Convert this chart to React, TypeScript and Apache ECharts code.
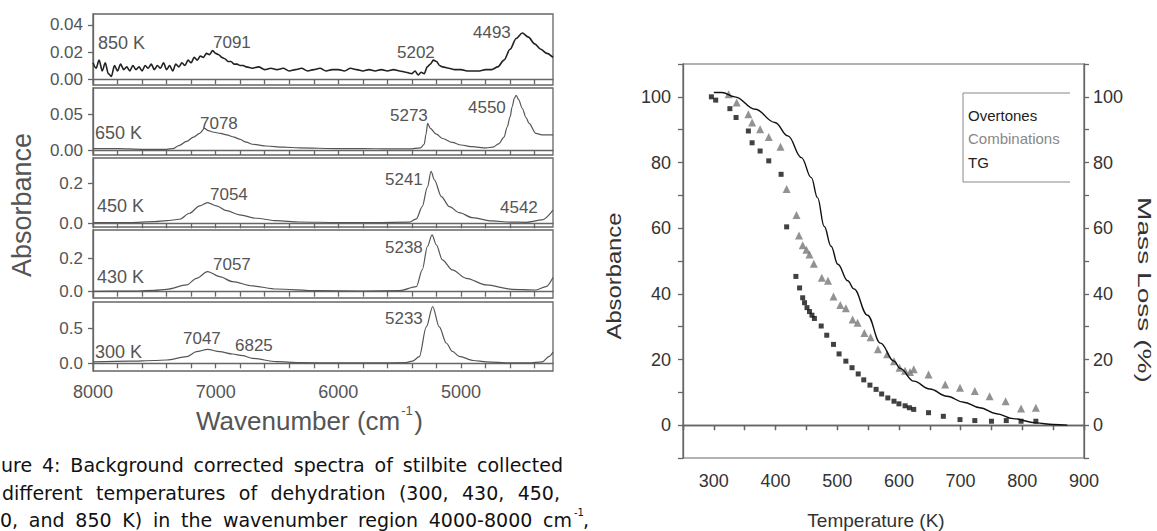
import React, { useEffect, useRef } from "react";
import * as echarts from "echarts";

// ---------------- Left figure: NIR spectra (wavenumber, absorbance) ----------------
const WN_LABELS = [8000, 7000, 6000, 5000];
const WN_TICKS = [8000, 7800, 7600, 7400, 7200, 7000, 6800, 6600, 6400, 6200, 6000, 5800, 5600, 5400, 5200, 5000, 4800, 4600, 4400];

const spectrum850K: [number, number][] = [
  [8000, 0.012], [7975, 0.008], [7950, 0.014], [7925, 0.006], [7900, 0.012], [7875, 0.004], [7850, 0.002],
  [7825, 0.010], [7800, 0.006], [7775, 0.011], [7750, 0.007], [7725, 0.009], [7700, 0.006], [7675, 0.010],
  [7650, 0.007], [7625, 0.009], [7600, 0.006], [7575, 0.010], [7550, 0.008], [7525, 0.011], [7500, 0.007],
  [7475, 0.010], [7450, 0.008], [7425, 0.012], [7400, 0.007], [7375, 0.010], [7350, 0.006], [7325, 0.011],
  [7300, 0.009], [7275, 0.012], [7250, 0.010], [7225, 0.014], [7200, 0.012], [7175, 0.016], [7150, 0.014],
  [7125, 0.017], [7100, 0.016], [7075, 0.019], [7050, 0.018], [7025, 0.021], [7000, 0.019], [6975, 0.018],
  [6950, 0.016], [6925, 0.015], [6900, 0.013], [6875, 0.013], [6850, 0.011], [6825, 0.011], [6800, 0.010],
  [6775, 0.010], [6750, 0.009], [6700, 0.008], [6650, 0.009], [6600, 0.007], [6550, 0.008], [6500, 0.007],
  [6450, 0.008], [6400, 0.006], [6350, 0.007], [6300, 0.008], [6250, 0.006], [6200, 0.007], [6150, 0.008],
  [6100, 0.006], [6050, 0.007], [6000, 0.007], [5950, 0.006], [5900, 0.008], [5850, 0.007], [5800, 0.006],
  [5750, 0.007], [5700, 0.006], [5650, 0.007], [5600, 0.006], [5550, 0.007], [5500, 0.006], [5450, 0.005],
  [5400, 0.004], [5375, 0.006], [5350, 0.003], [5325, 0.005], [5300, 0.004], [5275, 0.009], [5250, 0.011],
  [5225, 0.014], [5200, 0.013], [5175, 0.010], [5150, 0.009], [5100, 0.008], [5050, 0.007], [5000, 0.007],
  [4950, 0.006], [4900, 0.006], [4850, 0.006], [4800, 0.007], [4750, 0.007], [4700, 0.009], [4650, 0.014],
  [4600, 0.022], [4550, 0.030], [4500, 0.034], [4450, 0.031], [4400, 0.026], [4350, 0.022], [4300, 0.019],
  [4250, 0.016],
];

const spectrum650K: [number, number][] = [
  [8000, 0.002], [7800, 0.002], [7600, 0.001], [7400, 0.001], [7350, 0.002], [7300, 0.006], [7237, 0.012],
  [7180, 0.018], [7131, 0.023], [7091, 0.030], [7060, 0.027], [7025, 0.025], [6960, 0.023], [6911, 0.021],
  [6850, 0.018], [6806, 0.015], [6750, 0.011], [6700, 0.008], [6586, 0.0056], [6450, 0.004], [6317, 0.003],
  [6000, 0.002], [5800, 0.002], [5584, 0.0015], [5420, 0.0015], [5330, 0.003], [5300, 0.008], [5285, 0.022],
  [5272, 0.037], [5250, 0.030], [5201, 0.022], [5150, 0.016], [5071, 0.0105], [5000, 0.007], [4908, 0.0046],
  [4794, 0.003], [4740, 0.004], [4690, 0.009], [4650, 0.018], [4623, 0.032], [4600, 0.046], [4583, 0.060],
  [4565, 0.072], [4550, 0.076], [4530, 0.070], [4501, 0.058], [4470, 0.045], [4445, 0.037], [4389, 0.023],
  [4340, 0.021], [4250, 0.021],
];

const spectrum450K: [number, number][] = [
  [8000, 0.004], [7700, 0.004], [7500, 0.008], [7399, 0.013], [7294, 0.02], [7213, 0.05], [7131, 0.087],
  [7066, 0.103], [6993, 0.087], [6911, 0.063], [6806, 0.042], [6667, 0.025], [6504, 0.013], [6317, 0.0065],
  [6000, 0.004], [5700, 0.004], [5421, 0.006], [5364, 0.022], [5316, 0.083], [5274, 0.18], [5244, 0.258],
  [5217, 0.216], [5160, 0.133], [5095, 0.083], [5014, 0.053], [4908, 0.028], [4745, 0.0115], [4600, 0.006],
  [4468, 0.005], [4338, 0.0165], [4250, 0.065],
];

const spectrum430K: [number, number][] = [
  [8000, 0.002], [7700, 0.003], [7500, 0.008], [7399, 0.014], [7237, 0.04], [7156, 0.08], [7066, 0.12],
  [6968, 0.09], [6862, 0.06], [6700, 0.034], [6504, 0.016], [6178, 0.006], [5800, 0.004], [5500, 0.006],
  [5364, 0.03], [5316, 0.13], [5274, 0.27], [5236, 0.34], [5201, 0.28], [5152, 0.19], [5071, 0.13],
  [4957, 0.08], [4794, 0.04], [4583, 0.014], [4389, 0.01], [4307, 0.03], [4250, 0.085],
];

const spectrum300K: [number, number][] = [
  [8000, 0.02], [7700, 0.03], [7500, 0.04], [7399, 0.047], [7237, 0.094], [7156, 0.166], [7066, 0.2],
  [6968, 0.166], [6862, 0.133], [6780, 0.11], [6700, 0.071], [6504, 0.023], [6317, 0.01], [6000, 0.005],
  [5700, 0.005], [5450, 0.01], [5396, 0.03], [5340, 0.094], [5283, 0.52], [5231, 0.81], [5177, 0.52],
  [5120, 0.29], [5070, 0.17], [5014, 0.1], [4900, 0.04], [4794, 0.02], [4600, 0.005], [4450, 0.005],
  [4338, 0.02], [4281, 0.1], [4250, 0.16],
];

const TEMPERATURE_LABELS = ["850 K", "650 K", "450 K", "430 K", "300 K"];
const Y_TICKS_850K = [0, 0.02, 0.04];
const Y_TICKS_650K = [0, 0.05];
const Y_TICKS_450K = [0, 0.2];
const Y_TICKS_430K = [0, 0.2];
const Y_TICKS_300K = [0, 0.5];
const PEAK_LABELS_850K = ["7091", "5202", "4493"];
const PEAK_LABELS_650K = ["7078", "5273", "4550"];
const PEAK_LABELS_450K = ["7054", "5241", "4542"];
const PEAK_LABELS_430K = ["7057", "5238"];
const PEAK_LABELS_300K = ["7047", "6825", "5233"];

// ---------------- Right figure: temperature dependence ----------------
const T_TICKS = [300, 400, 500, 600, 700, 800, 900];
const Y_RIGHT_TICKS = [0, 20, 40, 60, 80, 100];

const overtones: [number, number][] = [
  [296, 100], [303, 99], [326, 96.4], [336, 93.7], [356, 89.6], [362, 86], [375, 83.5], [389, 80.5],
  [409, 76.4], [418, 60.4], [433, 45.3], [439, 41.8], [444, 38.8], [447, 37.3], [451, 35.8], [455, 34.6],
  [459, 33.5], [463, 32.5], [474, 30.2], [483, 27.4], [494, 24.6], [503, 21.7], [514, 19.5], [524, 17.5],
  [534, 15.6], [543, 13.8], [553, 12.2], [563, 10.9], [572, 9.5], [582, 8.3], [592, 7.3], [600, 6.5],
  [610, 5.9], [617, 5.3], [624, 4.8], [648, 3.8], [672, 2.7], [699, 1.7], [723, 1.4], [750, 1.2],
  [774, 1.4], [798, 1.2], [822, 1.2],
];

const combinations: [number, number][] = [
  [324, 100.8], [337, 98.3], [356, 94.7], [362, 92.2], [375, 90.1], [389, 87.8], [408, 84.8], [418, 71.9],
  [434, 64], [438, 57.8], [444, 54.8], [450, 53.4], [455, 52], [462, 49.2], [475, 44.9], [485, 44],
  [494, 39.2], [505, 36.6], [514, 35.6], [525, 32.2], [533, 31.2], [544, 28.1], [554, 26.8], [566, 23.1],
  [581, 21.6], [592, 19.5], [601, 17.5], [610, 16.6], [618, 16.2], [624, 17], [648, 15.4], [675, 12.4],
  [699, 11.4], [723, 10.4], [747, 8.8], [773, 7.3], [798, 5.1], [822, 5.3],
];

const tg: [number, number][] = [
  [300, 101.3], [313, 101.3], [334, 100], [367, 96.2], [399, 92.2], [420, 88.1], [442, 81.5], [458, 75.4],
  [468, 69.3], [479, 60.5], [490, 54.5], [501, 49], [517, 44], [527, 41.5], [549, 33.5], [570, 25],
  [592, 19.5], [602, 17.3], [624, 13.4], [650, 11], [678, 8.8], [705, 7], [731, 5.3], [758, 3.5],
  [785, 2], [822, 0.7], [850, 0.2], [873, 0],
];

const LEGEND_LABELS = ["Overtones", "Combinations", "TG"];
const CAPTION_LINES = [
  "ure 4: Background corrected spectra of stilbite collected",
  "different temperatures of dehydration (300, 430, 450,",
  "0, and 850 K) in the wavenumber region 4000-8000 cm",
];

// ---------------- Layout (pixels) ----------------
const FONT = "Liberation Sans, Arial, sans-serif";
const CAPTION_FONT = "DejaVu Sans, sans-serif";
const LEFT_X = 93;
const LEFT_W = 460;
const PANEL_BOXES = [
  { top: 14, height: 71, yMin: -0.0044, yMax: 0.0481, dec: 2, color: "#222", width: 1.6 },
  { top: 88, height: 67, yMin: -0.0069, yMax: 0.0861, dec: 2, color: "#555", width: 1.2 },
  { top: 158, height: 69, yMin: -0.0185, yMax: 0.325, dec: 1, color: "#555", width: 1.2 },
  { top: 230, height: 68, yMin: -0.038, yMax: 0.369, dec: 1, color: "#555", width: 1.2 },
  { top: 302, height: 69, yMin: -0.11, yMax: 0.876, dec: 1, color: "#555", width: 1.2 },
];
const TEMP_LABEL_POS = [[98, 43], [95, 133], [97, 206], [97, 277], [95, 352]];
const PEAK_LABEL_POS = [
  [[213, 42], [397, 52], [473, 32]],
  [[200, 123], [390, 115], [468, 107]],
  [[210, 194], [385, 179], [500, 207]],
  [[213, 264], [385, 247]],
  [[183, 338], [235, 345], [385, 318]],
];

function textWidth(str: string, font: string): number {
  const c = document.createElement("canvas").getContext("2d");
  if (!c) return str.length * 9;
  c.font = font;
  return c.measureText(str).width;
}

export default function App() {
  const ref = useRef<HTMLDivElement>(null);

  useEffect(() => {
    if (!ref.current) return;
    const chart = echarts.init(ref.current, undefined, { renderer: "svg" });

    const spectra = [spectrum850K, spectrum650K, spectrum450K, spectrum430K, spectrum300K];
    const yTicks = [Y_TICKS_850K, Y_TICKS_650K, Y_TICKS_450K, Y_TICKS_430K, Y_TICKS_300K];
    const peakLabels = [PEAK_LABELS_850K, PEAK_LABELS_650K, PEAK_LABELS_450K, PEAK_LABELS_430K, PEAK_LABELS_300K];

    const grid: any[] = PANEL_BOXES.map((p) => ({
      left: LEFT_X, width: LEFT_W, top: p.top, height: p.height,
      show: true, borderColor: "#666", borderWidth: 1.3, backgroundColor: "transparent",
    }));
    grid.push({ left: 683, width: 401, top: 64, height: 394, show: true, borderColor: "#666", borderWidth: 1.2 });

    const axisLineStyle = { color: "#666", width: 1.3 };

    const xAxis: any[] = PANEL_BOXES.map((p, i) => ({
      type: "value", gridIndex: i, min: 4250, max: 8000, inverse: true,
      axisLine: { show: true, lineStyle: axisLineStyle },
      axisTick: { show: true, inside: false, length: 5, lineStyle: axisLineStyle, customValues: WN_TICKS },
      axisLabel: {
        show: i === 4, customValues: WN_LABELS, fontSize: 18, color: "#555", margin: 12, fontFamily: FONT,
        formatter: (v: number) => String(v),
      },
      splitLine: { show: false },
    }));
    xAxis.push({
      type: "value", gridIndex: 5, min: 250, max: 900, interval: 50, position: "bottom",
      axisLine: { show: true, lineStyle: axisLineStyle },
      axisTick: { show: true, inside: false, length: 5, lineStyle: axisLineStyle },
      axisLabel: {
        fontSize: 18, color: "#333", margin: 14, fontFamily: FONT,
        formatter: (v: number) => (T_TICKS.indexOf(v) >= 0 ? String(v) : ""),
      },
      splitLine: { show: false },
    });
    xAxis.push({
      type: "value", gridIndex: 5, min: 250, max: 900, interval: 50, position: "top",
      axisLine: { show: true, lineStyle: axisLineStyle },
      axisTick: { show: true, inside: true, length: 5, lineStyle: axisLineStyle },
      axisLabel: { show: false },
      splitLine: { show: false },
    });

    const yAxis: any[] = PANEL_BOXES.map((p, i) => ({
      type: "value", gridIndex: i, min: p.yMin, max: p.yMax,
      axisLine: { show: true, lineStyle: axisLineStyle },
      axisTick: { show: true, inside: false, length: 5, lineStyle: axisLineStyle, customValues: yTicks[i] },
      axisLabel: {
        customValues: yTicks[i], fontSize: 17, color: "#555", margin: 10, fontFamily: FONT,
        formatter: (v: number) => v.toFixed(p.dec),
      },
      splitLine: { show: false },
    }));
    yAxis.push({
      type: "value", gridIndex: 5, min: -10, max: 110, interval: 10, position: "left",
      axisLine: { show: true, lineStyle: axisLineStyle },
      axisTick: { show: true, inside: false, length: 5, lineStyle: axisLineStyle },
      axisLabel: {
        fontSize: 18, color: "#333", margin: 12, fontFamily: FONT,
        formatter: (v: number) => (Y_RIGHT_TICKS.indexOf(v) >= 0 ? String(v) : ""),
      },
      splitLine: { show: false },
    });
    yAxis.push({
      type: "value", gridIndex: 5, min: -10, max: 110, interval: 10, position: "right",
      axisLine: { show: true, lineStyle: axisLineStyle },
      axisTick: { show: true, inside: false, length: 5, lineStyle: axisLineStyle },
      axisLabel: {
        fontSize: 18, color: "#333", margin: 9, fontFamily: FONT,
        formatter: (v: number) => (Y_RIGHT_TICKS.indexOf(v) >= 0 ? String(v) : ""),
      },
      splitLine: { show: false },
    });

    const series: any[] = spectra.map((d, i) => ({
      type: "line", name: TEMPERATURE_LABELS[i], xAxisIndex: i, yAxisIndex: i, data: d,
      showSymbol: false, smooth: 0.3, smoothMonotone: "x",
      lineStyle: { color: PANEL_BOXES[i].color, width: PANEL_BOXES[i].width },
      silent: true,
    }));
    series.push({
      type: "scatter", name: LEGEND_LABELS[0], xAxisIndex: 5, yAxisIndex: 5, data: overtones,
      symbol: "rect", symbolSize: 5, itemStyle: { color: "#111" },
    });
    series.push({
      type: "scatter", name: LEGEND_LABELS[1], xAxisIndex: 5, yAxisIndex: 5, data: combinations,
      symbol: "triangle", symbolSize: 8, itemStyle: { color: "#777" },
    });
    series.push({
      type: "line", name: LEGEND_LABELS[2], xAxisIndex: 5, yAxisIndex: 5, data: tg,
      showSymbol: false, smooth: 0.4, smoothMonotone: "x", lineStyle: { color: "#111", width: 1.4 },
    });

    const graphic: any[] = [];
    const txt = (text: string, x: number, y: number, opts: any = {}) => ({
      type: "text", x, y, rotation: opts.rotation || 0, scaleX: opts.scaleX || 1, scaleY: opts.scaleY || 1,
      style: {
        text, fill: opts.fill || "#555", fontSize: opts.fontSize || 17, fontFamily: opts.fontFamily || FONT,
        fontWeight: opts.fontWeight || "normal",
        align: opts.align || "left", textAlign: opts.align || "left",
        verticalAlign: "middle", textVerticalAlign: "middle",
      },
    });

    // Left panel labels
    TEMPERATURE_LABELS.forEach((t, i) => {
      graphic.push(txt(t, TEMP_LABEL_POS[i][0], TEMP_LABEL_POS[i][1], { fontSize: 18 }));
      peakLabels[i].forEach((lab, j) => {
        const pos = PEAK_LABEL_POS[i][j];
        graphic.push(txt(lab, pos[0], pos[1], { fontSize: 17 }));
      });
    });

    // Left axis titles
    graphic.push(txt("Absorbance", 22, 205, { fontSize: 27, align: "center", rotation: Math.PI / 2 }));
    const wTitleFont = `26px ${FONT}`;
    const wTitle = "Wavenumber (cm";
    const wX = 196;
    const wW = textWidth(wTitle, wTitleFont);
    graphic.push(txt(wTitle, wX, 421, { fontSize: 26 }));
    graphic.push(txt("-1", wX + wW + 1, 410, { fontSize: 13 }));
    graphic.push(txt(")", wX + wW + 14, 421, { fontSize: 26 }));

    // Right axis titles
    graphic.push(txt("Absorbance", 614, 276, { fontSize: 20, align: "center", rotation: Math.PI / 2, scaleX: 1.19, fill: "#333" }));
    graphic.push(txt("Mass Loss (%)", 1145, 290, { fontSize: 19, align: "center", rotation: -Math.PI / 2, scaleX: 1.48, fill: "#333" }));
    graphic.push(txt("Temperature (K)", 876, 520, { fontSize: 19, align: "center", fill: "#333" }));

    // Legend box
    graphic.push({
      type: "polyline",
      shape: { points: [[1070, 93], [963, 93], [963, 182], [1070, 182]] },
      style: { stroke: "#888", lineWidth: 1, fill: "none" },
    });
    const legendColors = ["#222", "#888", "#222"];
    const legendY = [115, 138, 162];
    LEGEND_LABELS.forEach((l, i) => graphic.push(txt(l, 968, legendY[i], { fontSize: 15, fill: legendColors[i] })));

    // Caption (justified lines, common font size chosen so word gaps are ~0.4em)
    const capStart = [1, 2, 0];
    const capEnd = [563, 560, 572];
    const capY = [465, 493, 520];
    const gapEm = 0.4;
    const sizes = CAPTION_LINES.map((line, li) => {
      const words = line.split(" ");
      const w10 = words.reduce((a, w) => a + textWidth(w, `10px ${CAPTION_FONT}`), 0) / 10;
      return (capEnd[li] - capStart[li]) / (w10 + (words.length - 1) * gapEm);
    });
    const capFontSize = Math.min(19, Math.round(((sizes[0] + sizes[1] + sizes[2]) / 3) * 10) / 10);
    const capFont = `${capFontSize}px ${CAPTION_FONT}`;
    CAPTION_LINES.forEach((line, li) => {
      const words = line.split(" ");
      const widths = words.map((w) => textWidth(w, capFont));
      const total = widths.reduce((a, b) => a + b, 0);
      const gap = (capEnd[li] - capStart[li] - total) / (words.length - 1);
      let x = capStart[li];
      words.forEach((w, wi) => {
        graphic.push(txt(w, x, capY[li], { fontSize: capFontSize, fontFamily: CAPTION_FONT, fill: "#111" }));
        x += widths[wi] + gap;
      });
    });
    graphic.push(txt("-1", 574, 512, { fontSize: 10, fontFamily: CAPTION_FONT, fill: "#111" }));
    graphic.push(txt(",", 583, 520, { fontSize: capFontSize, fontFamily: CAPTION_FONT, fill: "#111" }));

    chart.setOption({
      animation: false,
      backgroundColor: "#fff",
      textStyle: { fontFamily: FONT },
      grid, xAxis, yAxis, series, graphic,
    });

    return () => chart.dispose();
  }, []);

  return (
    <div
      ref={ref}
      style={{ position: "absolute", left: 0, top: 0, width: 1157, height: 531, background: "#fff" }}
    />
  );
}
